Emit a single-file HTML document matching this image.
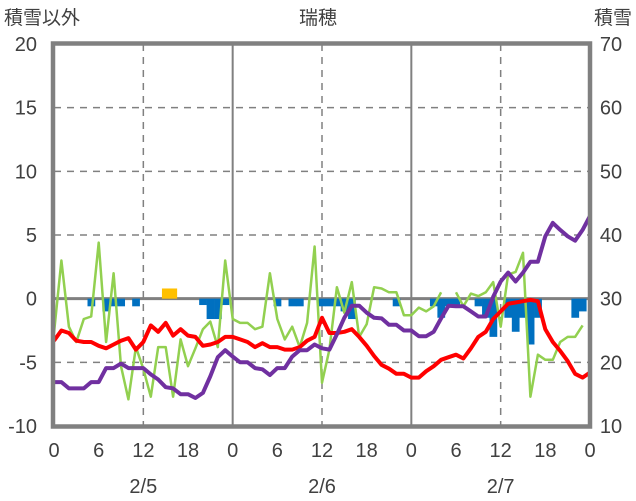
<!DOCTYPE html>
<html><head><meta charset="utf-8"><style>
html,body{margin:0;padding:0;background:#fff;}
svg{display:block;font-family:"Liberation Sans","Noto Sans CJK JP",sans-serif;}
</style></head><body>
<svg id="chart" width="636" height="501" viewBox="0 0 636 501" xmlns="http://www.w3.org/2000/svg">
<g id="grid"></g>
<g id="bars"></g>
<g id="lines"></g>
<g id="axes"></g>
<text x="4" y="24" font-size="19" fill="#404040">積雪以外</text>
<text x="318" y="24" font-size="19" fill="#404040" text-anchor="middle">瑞穂</text>
<text x="632" y="24" font-size="19" fill="#404040" text-anchor="end">積雪</text>
</svg>
<script>
const leftTicks=[20,15,10,5,0,-5,-10];
const rightTicks=[70,60,50,40,30,20,10];
const xTickLabels=["0","6","12","18","0","6","12","18","0","6","12","18","0"];
const dateLabels=["2/5","2/6","2/7"];
const redSeries=[-3.3,-2.5,-2.7,-3.3,-3.4,-3.4,-3.7,-3.9,-3.6,-3.3,-3.1,-4.0,-3.4,-2.1,-2.6,-1.9,-2.9,-2.4,-2.9,-3.0,-3.7,-3.6,-3.4,-3.0,-3.0,-3.2,-3.4,-3.8,-3.5,-3.8,-3.8,-4.0,-4.0,-3.8,-3.3,-3.0,-1.5,-2.7,-2.7,-2.6,-2.4,-3.0,-3.7,-4.5,-5.2,-5.5,-5.9,-5.9,-6.2,-6.2,-5.7,-5.3,-4.8,-4.6,-4.4,-4.7,-3.9,-3.0,-2.6,-1.6,-1.0,-0.4,-0.3,-0.2,-0.1,-0.2,-2.4,-3.4,-4.1,-4.9,-5.9,-6.2,-5.8];
const greenSeries=[-2.7,3.0,-2.2,-3.4,-1.6,-1.4,4.4,-3.4,2.0,-5.3,-7.9,-3.8,-5.5,-7.7,-3.8,-3.8,-7.7,-3.2,-5.3,-3.9,-2.4,-1.8,-3.8,3.0,-1.6,-1.9,-1.9,-2.4,-2.2,2.0,-1.6,-3.2,-2.2,-3.8,-1.9,4.1,-6.6,-4.0,0.9,-1.1,1.3,-3.0,-2.0,0.9,0.8,0.5,0.5,-1.3,-1.3,-0.7,-1.0,-0.6,0.5,null,0.5,-0.6,0.4,0.2,0.5,1.3,-2.2,1.9,2.1,3.6,-7.7,-4.4,-4.8,-4.8,-3.4,-3.0,-3.0,-2.1,null];
const snowDepth=[16.9,16.9,15.9,15.9,15.9,16.9,16.9,19.1,19.1,19.8,19.1,19.1,19.1,18.1,17.3,16.1,15.9,15.0,15.0,14.4,15.2,17.8,20.8,21.9,20.9,20.0,20.0,19.1,18.9,18.0,19.1,19.1,20.9,21.9,21.9,22.8,22.2,22.0,24.4,27.0,28.9,28.9,27.8,27.0,26.9,25.9,25.9,25.0,25.0,24.1,24.1,24.8,26.9,28.9,28.8,28.8,28.0,27.2,27.2,30.3,32.7,34.1,32.7,34.1,35.8,35.8,39.8,41.9,40.8,39.8,39.1,40.8,43.0];
const barHours=[5,7,8,9,11,20,21,22,23,30,32,33,36,37,38,39,40,46,51,52,53,54,57,58,59,61,62,63,64,65,70,71];
const barValues=[-0.6,-1.0,-0.6,-0.6,-0.6,-0.5,-1.6,-1.6,-0.5,-0.6,-0.6,-0.6,-0.6,-0.6,-0.6,-1.0,-1.6,-0.6,-0.6,-1.5,-0.6,-0.6,-0.6,-1.5,-3.0,-1.5,-2.6,-1.5,-3.6,-1.5,-1.5,-1.0];
const orangeHours=[15,16];
const orangeValues=[0.8,0.8];

const NS="http://www.w3.org/2000/svg";
const X0=54,X1=590,YT=44,YB=426;
function xs(h){return X0+(X1-X0)*h/72;}
function yl(v){return YT+(YB-YT)*(20-v)/30;}
function yr(v){return YT+(YB-YT)*(70-v)/60;}
function mk(tag,attrs,parent){const e=document.createElementNS(NS,tag);for(const k in attrs)e.setAttribute(k,attrs[k]);parent.appendChild(e);return e;}
const grid=document.getElementById('grid'),bars=document.getElementById('bars'),lines=document.getElementById('lines'),axes=document.getElementById('axes');

leftTicks.forEach(v=>{
  if(v===20||v===-10)return;
  const l=mk('line',{x1:X0,x2:X1,y1:yl(v),y2:yl(v),stroke:'#808080','stroke-width':v===0?3:1.5,'stroke-dasharray':v===0?'none':'7,6'},grid);
  
  
});
[12,24,36,48,60].forEach(h=>{
  const solid=(h%24===0);
  const l=mk('line',{x1:xs(h),x2:xs(h),y1:YT,y2:YB,stroke:'#808080','stroke-width':solid?2:1.5,'stroke-dasharray':solid?'none':'7,6'},grid);
  
  
});

const bw=(X1-X0)/72;
barHours.forEach((h,i)=>{
  const v=barValues[i];
  const r=mk('rect',{x:xs(h)-bw/2,y:yl(0),width:bw+0.3,height:yl(v)-yl(0),fill:'#0070c0'},bars);
  
  
});
orangeHours.forEach((h,i)=>{
  const v=orangeValues[i];
  const r=mk('rect',{x:xs(h)-bw/2,y:yl(v),width:bw+0.3,height:yl(0)-yl(v),fill:'#ffc000'},bars);
  
  
});

function pathFrom(arr,yf){
  let d='',pen=false;
  arr.forEach((v,i)=>{
    if(v===null){pen=false;return;}
    d+=(pen?'L':'M')+xs(i).toFixed(1)+','+yf(v).toFixed(1)+' ';pen=true;
  });
  return d;
}
const g=mk('path',{d:pathFrom(greenSeries,yl),fill:'none',stroke:'#92d050','stroke-width':2.5,'stroke-linejoin':'round'},lines);


const rd=mk('path',{d:pathFrom(redSeries,yl),fill:'none',stroke:'#ff0000','stroke-width':4,'stroke-linejoin':'round'},lines);


const pp=mk('path',{d:pathFrom(snowDepth,yr),fill:'none',stroke:'#7030a0','stroke-width':4,'stroke-linejoin':'round'},lines);



const fr=mk('rect',{x:X0-1,y:YT-0.5,width:X1-X0+1,height:YB-YT+1,fill:'none',stroke:'#808080','stroke-width':4.5},axes);



leftTicks.forEach(v=>{
  const t=mk('text',{x:37,y:yl(v)+7,'font-size':20,fill:'#404040','text-anchor':'end'},axes);
  t.textContent=String(v);
  
  
});
rightTicks.forEach(v=>{
  const t=mk('text',{x:611,y:yr(v)+7,'font-size':20,fill:'#404040','text-anchor':'middle'},axes);
  t.textContent=String(v);
  
  
});
xTickLabels.forEach((s,i)=>{
  const t=mk('text',{x:xs(i*6),y:457,'font-size':20,fill:'#404040','text-anchor':'middle'},axes);
  t.textContent=s;
  
  
});
dateLabels.forEach((s,i)=>{
  const t=mk('text',{x:xs(12+24*i),y:493,'font-size':20,fill:'#404040','text-anchor':'middle'},axes);
  t.textContent=s;
  
  
});
</script>
</body></html>
